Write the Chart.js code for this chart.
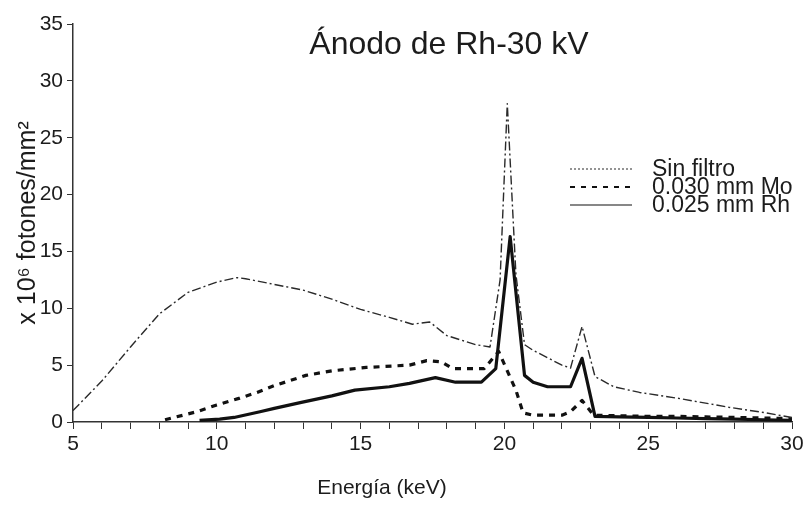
<!DOCTYPE html>
<html>
<head>
<meta charset="utf-8">
<script src="https://cdn.jsdelivr.net/npm/chart.js@4/dist/chart.umd.min.js"></script>
<style>
  html, body { margin: 0; padding: 0; background: #fff; }
  #wrap { width: 808px; height: 505px; }
</style>
</head>
<body>
<div id="wrap"><canvas id="chart" width="808" height="505"></canvas></div>
<script>
// Datos (energía en keV, fotones x 10^6/mm²)
const energySinFiltro = [5, 6, 7, 8, 9, 10, 10.7, 11, 12, 13, 14, 15, 16, 16.8, 17.4, 18, 19, 19.5, 19.85, 20.1, 20.4, 20.7, 21, 22, 22.3, 22.7, 23.15, 23.8, 24.7, 26, 27.8, 29.1, 30];
const sinFiltro       = [1.0, 3.6, 6.6, 9.5, 11.4, 12.3, 12.7, 12.6, 12.1, 11.6, 10.8, 9.9, 9.2, 8.6, 8.8, 7.6, 6.8, 6.6, 12.5, 28, 13, 6.8, 6.3, 5.0, 4.75, 8.4, 4.0, 3.1, 2.6, 2.1, 1.3, 0.8, 0.4];

const energyMo = [8.2, 9.3, 10, 10.8, 11.4, 12, 13.1, 14, 15.2, 16.7, 17.3, 17.8, 18.2, 19.3, 19.8, 20.4, 20.65, 21, 22, 22.3, 22.7, 23.1, 24, 25, 26, 27, 28, 29, 30];
const mo       = [0.2, 0.9, 1.5, 2.1, 2.6, 3.2, 4.1, 4.5, 4.8, 5.0, 5.4, 5.3, 4.7, 4.7, 6.2, 2.8, 0.8, 0.6, 0.6, 0.9, 1.9, 0.6, 0.55, 0.5, 0.5, 0.45, 0.4, 0.35, 0.3];

const energyRh = [9.4, 10.1, 10.6, 11.5, 12, 12.9, 14, 14.8, 16, 16.7, 17.6, 18.3, 19.2, 19.7, 20.2, 20.7, 21, 21.5, 22.3, 22.7, 23.15, 24, 25, 26, 27, 28, 29, 30];
const rh       = [0.15, 0.25, 0.4, 0.9, 1.2, 1.7, 2.3, 2.8, 3.1, 3.4, 3.9, 3.5, 3.5, 4.7, 16.3, 4.1, 3.5, 3.1, 3.1, 5.6, 0.5, 0.45, 0.4, 0.35, 0.3, 0.25, 0.2, 0.15];

const seriesNames = ['Sin filtro', '0.030 mm Mo', '0.025 mm Rh'];
const yTicks = [0, 5, 10, 15, 20, 25, 30, 35];

const FONT = '"Liberation Sans", Arial, sans-serif';
const INK = '#1c1c1c';

function pairs(xs, ys) {
    return xs.map((x, i) => ({ x: x, y: ys[i] }));
}

// Título, título del eje X y leyenda dibujados encima del gráfico
const overlayPlugin = {
    id: 'overlay',
    afterDraw(chart) {
        const ctx = chart.ctx;
        ctx.save();
        ctx.fillStyle = INK;
        ctx.font = '32px ' + FONT;
        ctx.textAlign = 'center';
        ctx.textBaseline = 'alphabetic';
        ctx.fillText('Ánodo de Rh-30 kV', 449, 54);

        // el título del eje X está corrido a la izquierda en el original
        ctx.font = '21px ' + FONT;
        ctx.textBaseline = 'middle';
        ctx.fillText('Energía (keV)', 382, 488);

        // leyenda
        const legendWidths = [1, 2, 1.2];
        const legendDash = [[2, 2], [5, 6], []];
        ctx.font = '23px ' + FONT;
        ctx.textAlign = 'left';
        chart.data.datasets.forEach((ds, i) => {
            const y = 169 + i * 18;
            ctx.beginPath();
            ctx.setLineDash(legendDash[i]);
            ctx.lineWidth = legendWidths[i];
            ctx.strokeStyle = ds.borderColor;
            ctx.moveTo(570, y);
            ctx.lineTo(632, y);
            ctx.stroke();
            ctx.setLineDash([]);
            ctx.fillText(ds.label, 652, y + 1);
        });
        ctx.restore();
    }
};

const ctx = document.getElementById('chart').getContext('2d');
new Chart(ctx, {
    type: 'line',
    data: {
        datasets: [
            {
                label: seriesNames[0],
                data: pairs(energySinFiltro, sinFiltro),
                borderColor: '#2a2a2a',
                borderWidth: 1.4,
                borderDash: [9, 3, 2, 3]
            },
            {
                label: seriesNames[1],
                data: pairs(energyMo, mo),
                borderColor: '#111',
                borderWidth: 3.2,
                borderDash: [6, 6]
            },
            {
                label: seriesNames[2],
                data: pairs(energyRh, rh),
                borderColor: '#111',
                borderWidth: 3.2
            }
        ]
    },
    options: {
        responsive: false,
        animation: false,
        layout: { padding: { top: 24, right: 16, left: 0, bottom: 0 } },
        elements: {
            line: { tension: 0, fill: false, borderJoinStyle: 'round' },
            point: { radius: 0 }
        },
        plugins: {
            legend: { display: false },
            tooltip: { enabled: false }
        },
        scales: {
            x: {
                type: 'linear',
                min: 5,
                max: 30,
                afterFit: s => { s.height = 83; },
                border: { display: true, color: '#333', width: 1.5 },
                grid: { drawOnChartArea: false, drawTicks: true, tickLength: 7, color: '#333', tickWidth: 1 },
                ticks: {
                    stepSize: 1,
                    autoSkip: false,
                    maxRotation: 0,
                    padding: 3,
                    color: INK,
                    font: { family: FONT, size: 21 },
                    callback: v => (v % 5 === 0 ? String(v) : '')
                }
            },
            y: {
                min: 0,
                max: 35,
                afterFit: s => { s.width = 73; },
                afterBuildTicks: s => { s.ticks = yTicks.map(v => ({ value: v })); },
                border: { display: true, color: '#333', width: 1.5 },
                grid: { drawOnChartArea: false, drawTicks: true, tickLength: 6, color: '#333' },
                ticks: {
                    padding: 4,
                    color: INK,
                    font: { family: FONT, size: 21 }
                },
                title: {
                    display: true,
                    text: 'x 10⁶ fotones/mm²',
                    color: INK,
                    font: { family: FONT, size: 25 },
                    padding: { top: 13, bottom: 0 }
                }
            }
        }
    },
    plugins: [overlayPlugin]
});
</script>
</body>
</html>
